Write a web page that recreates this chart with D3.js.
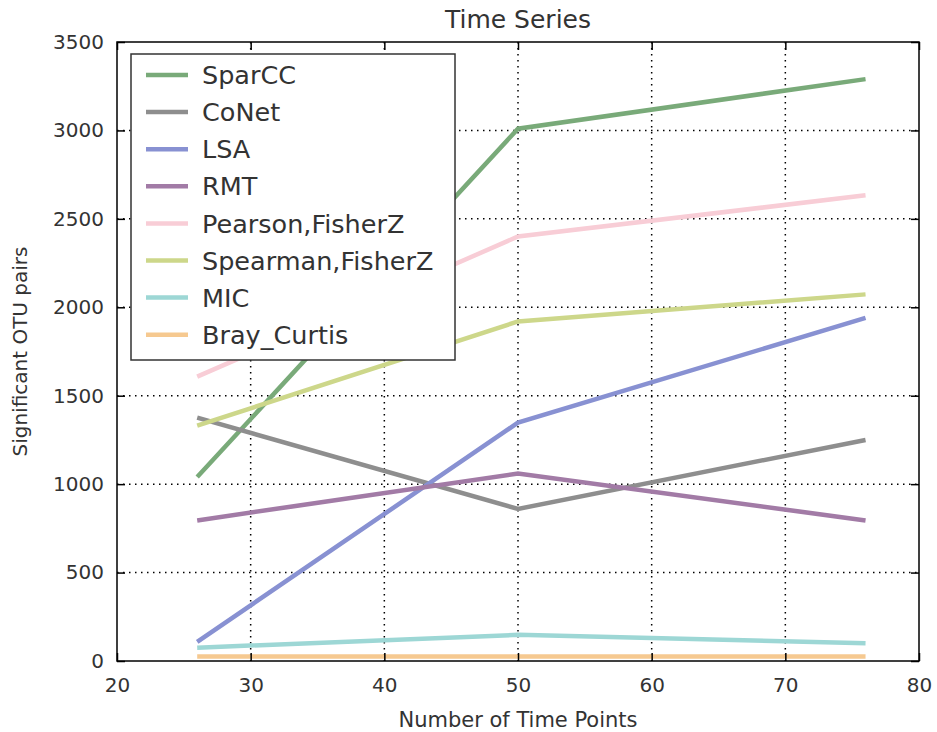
<!DOCTYPE html>
<html><head><meta charset="utf-8">
<script src="https://cdn.jsdelivr.net/npm/d3@7"></script>
<style>body{margin:0;background:#fff}text{font-family:"DejaVu Sans",sans-serif;fill:#333}</style>
</head><body><svg id="c" width="937" height="732"></svg>
<script>
const timePoints = [26, 50, 76];
const seriesNames = ["SparCC","CoNet","LSA","RMT","Pearson,FisherZ","Spearman,FisherZ","MIC","Bray_Curtis"];
const sparcc = [1040, 3010, 3290];
const conet = [1376, 860, 1250];
const lsa = [108, 1348, 1940];
const rmt = [795, 1060, 795];
const pearson = [1608, 2400, 2633];
const spearman = [1331, 1920, 2073];
const mic = [75, 148, 100];
const bray = [25, 25, 25];
const seriesValues = [sparcc, conet, lsa, rmt, pearson, spearman, mic, bray];
const colors = ["#79aa79","#8e8e8e","#8891d2","#a27ba6","#f8cdd6","#cdd78a","#9dd7d5","#f6c990"];
const xTicks = [20,30,40,50,60,70,80];
const yTicks = [0,500,1000,1500,2000,2500,3000,3500];

const svg = d3.select("#c");
const L=117,R=919,T=42,B=661;
const x = d3.scaleLinear().domain([20,80]).range([L,R]);
const y = d3.scaleLinear().domain([0,3500]).range([B,T]);

// grid
const g = svg.append("g");
g.selectAll(".gx").data(xTicks.slice(1,-1)).enter().append("line")
 .attr("x1",d=>x(d)).attr("x2",d=>x(d)).attr("y1",T).attr("y2",B)
 .attr("stroke","#000").attr("stroke-width",1.5).attr("stroke-dasharray","1.5,4.5");
g.selectAll(".gy").data(yTicks.slice(1,-1)).enter().append("line")
 .attr("y1",d=>y(d)).attr("y2",d=>y(d)).attr("x1",L).attr("x2",R)
 .attr("stroke","#000").attr("stroke-width",1.5).attr("stroke-dasharray","1.5,4.5");

// lines
const line = d3.line().x((d,i)=>x(timePoints[i])).y(d=>y(d));
seriesValues.forEach((vals,i)=>{
  svg.append("path").attr("d",line(vals)).attr("fill","none")
   .attr("stroke",colors[i]).attr("stroke-width",4.5).attr("stroke-linejoin","miter");
});

// axes with inward ticks
const ax = svg.append("g");
function styleAxis(sel){sel.select(".domain").remove();sel.selectAll("text").style("font-size","20px").attr("fill","#333");sel.selectAll("line").attr("stroke","#000").attr("stroke-width",1.5);}
ax.append("g").attr("transform",`translate(0,${B})`)
 .call(d3.axisBottom(x).tickValues(xTicks).tickSizeInner(-8).tickSizeOuter(0).tickPadding(17).tickFormat(d3.format("d"))).call(styleAxis);
ax.append("g").attr("transform",`translate(0,${T})`)
 .call(d3.axisTop(x).tickValues(xTicks).tickSizeInner(-8).tickSizeOuter(0).tickFormat("")).call(styleAxis);
ax.append("g").attr("transform",`translate(${L},0)`)
 .call(d3.axisLeft(y).tickValues(yTicks).tickSizeInner(-8).tickSizeOuter(0).tickPadding(13).tickFormat(d3.format("d"))).call(styleAxis);
ax.append("g").attr("transform",`translate(${R},0)`)
 .call(d3.axisRight(y).tickValues(yTicks).tickSizeInner(-8).tickSizeOuter(0).tickFormat("")).call(styleAxis);
svg.append("rect").attr("x",L).attr("y",T).attr("width",R-L).attr("height",B-T)
 .attr("fill","none").attr("stroke","#000").attr("stroke-width",1.5);

// legend
const lg = svg.append("g");
lg.append("rect").attr("x",131).attr("y",54).attr("width",324).attr("height",306)
 .attr("fill","#fff").attr("stroke","#333").attr("stroke-width",1.5);
seriesNames.forEach((n,i)=>{
  const yy = 75 + i*37.1;
  lg.append("line").attr("x1",146).attr("x2",188).attr("y1",yy).attr("y2",yy)
   .attr("stroke",colors[i]).attr("stroke-width",4.5);
  lg.append("text").attr("x",202).attr("y",yy).attr("dy","0.36em")
   .style("font-size","25.5px").text(n);
});

svg.append("text").attr("x",(L+R)/2).attr("y",28).attr("text-anchor","middle").style("font-size","25px").text("Time Series");
svg.append("text").attr("x",(L+R)/2).attr("y",727).attr("text-anchor","middle").style("font-size","21px").text("Number of Time Points");
svg.append("text").attr("transform",`translate(27,${(T+B)/2}) rotate(-90)`).attr("text-anchor","middle").style("font-size","20px").text("Significant OTU pairs");
</script></body></html>
